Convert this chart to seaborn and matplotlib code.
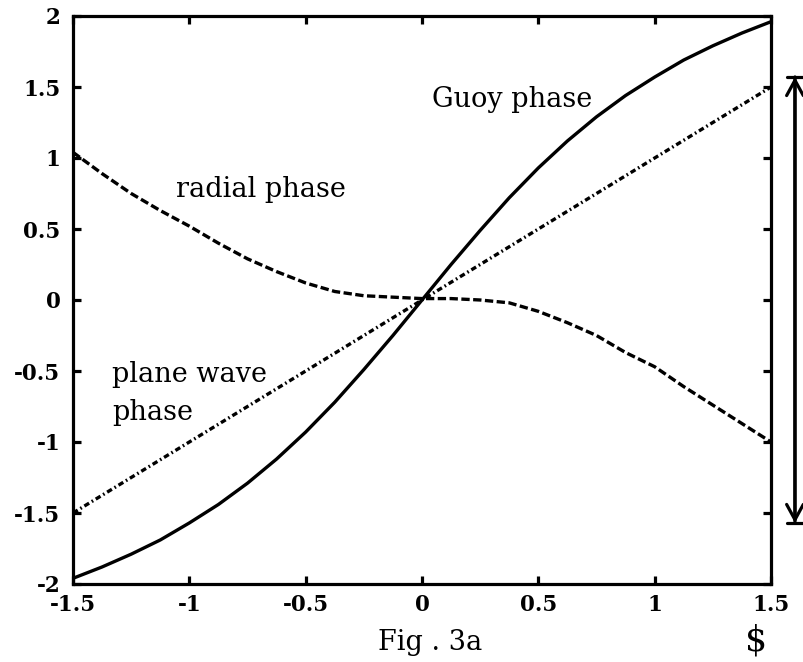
import numpy as np
import pandas as pd
import matplotlib
matplotlib.use("Agg")
import matplotlib.pyplot as plt
import seaborn as sns

# Propagation coordinate (normalised), sampled every 0.125
z = [-1.5, -1.375, -1.25, -1.125, -1.0, -0.875, -0.75, -0.625, -0.5, -0.375,
     -0.25, -0.125, 0.0, 0.125, 0.25, 0.375, 0.5, 0.625, 0.75, 0.875,
     1.0, 1.125, 1.25, 1.375, 1.5]

guoy_phase = [-1.96, -1.88, -1.79, -1.69, -1.57, -1.44, -1.29, -1.12, -0.93, -0.72,
              -0.49, -0.25, 0.0, 0.25, 0.49, 0.72, 0.93, 1.12, 1.29, 1.44,
              1.57, 1.69, 1.79, 1.88, 1.96]

radial_phase = [1.04, 0.89, 0.75, 0.63, 0.52, 0.40, 0.29, 0.20, 0.12, 0.06,
                0.03, 0.02, 0.01, 0.01, 0.0, -0.02, -0.08, -0.16, -0.25, -0.37,
                -0.47, -0.61, -0.74, -0.87, -1.00]

z_plane = [-1.5, -1.0, -0.5, 0.0, 0.5, 1.0, 1.5]
plane_wave_phase = [-1.5, -1.0, -0.5, 0.0, 0.5, 1.0, 1.5]

x_ticks = [-1.5, -1, -0.5, 0, 0.5, 1, 1.5]
x_tick_labels = ["-1.5", "-1", "-0.5", "0", "0.5", "1", "1.5"]
y_ticks = [-2, -1.5, -1, -0.5, 0, 0.5, 1, 1.5, 2]
y_tick_labels = ["-2", "-1.5", "-1", "-0.5", "0", "0.5", "1", "1.5", "2"]

sns.set_style("ticks")
plt.rcParams["font.family"] = ["DejaVu Serif", "Liberation Serif"]
plt.rcParams["text.color"] = "black"
plt.rcParams["lines.scale_dashes"] = False

curves = pd.DataFrame({"z": z, "guoy": guoy_phase, "radial": radial_phase})
plane = pd.DataFrame({"z": z_plane, "plane": plane_wave_phase})

fig = plt.figure(figsize=(8.04, 6.62), dpi=100)
ax = fig.add_axes([73 / 804, 1 - 584 / 662, (771 - 73) / 804, (584 - 16) / 662])

lw = 2.4
sns.lineplot(data=curves, x="z", y="guoy", ax=ax, color="black", lw=lw,
             sort=False, estimator=None)
sns.lineplot(data=curves, x="z", y="radial", ax=ax, color="black", lw=lw,
             sort=False, estimator=None, linestyle=(0, (6, 2.5)))
sns.lineplot(data=plane, x="z", y="plane", ax=ax, color="black", lw=lw,
             sort=False, estimator=None, linestyle=(0, (4, 2.2, 1.2, 2.2)))

ax.set_xlim(-1.5, 1.5)
ax.set_ylim(-2, 2)
ax.set_xlabel("")
ax.set_ylabel("")
ax.set_xticks(x_ticks)
ax.set_xticklabels(x_tick_labels)
ax.set_yticks(y_ticks)
ax.set_yticklabels(y_tick_labels)
for spine in ax.spines.values():
    spine.set_visible(True)
    spine.set_linewidth(2.3)
    spine.set_color("black")
ax.tick_params(direction="in", length=6, width=2.3, top=True, right=True,
               labelsize=15.5, colors="black")
ax.tick_params(axis="y", pad=9)
ax.tick_params(axis="x", pad=7)
for lab in ax.get_xticklabels() + ax.get_yticklabels():
    lab.set_fontweight("heavy")

txt = dict(fontsize=19.5, color="black", ha="left", va="baseline")
ax.text(0.043, 1.36, "Guoy phase", **txt)
ax.text(-1.057, 0.725, "radial phase", **txt)
ax.text(-1.332, -0.577, "plane wave", **txt)
ax.text(-1.332, -0.845, "phase", **txt)

# Range marker beside the frame, spanning -pi/2 .. pi/2
x_mark = 1.603
ax.annotate("", xy=(x_mark, np.pi / 2), xytext=(x_mark, -np.pi / 2),
            xycoords="data", textcoords="data", annotation_clip=False,
            arrowprops=dict(arrowstyle="<->,head_length=0.55,head_width=0.3",
                            lw=2.3, color="black", mutation_scale=20,
                            shrinkA=0, shrinkB=0))
ax.annotate("", xy=(x_mark, np.pi / 2), xytext=(x_mark, -np.pi / 2),
            xycoords="data", textcoords="data", annotation_clip=False,
            arrowprops=dict(arrowstyle="|-|,widthA=0.3,widthB=0.3",
                            lw=2.3, color="black", mutation_scale=20,
                            shrinkA=0, shrinkB=0))

fig.text(378 / 804, 1 - 650 / 662, "Fig . 3a", fontsize=19.5, color="black",
         ha="left", va="baseline")
fig.text(756 / 804, 1 - 651 / 662, "\\$", fontsize=25, color="black",
         ha="center", va="baseline")

fig.savefig("out.png", dpi=100)
